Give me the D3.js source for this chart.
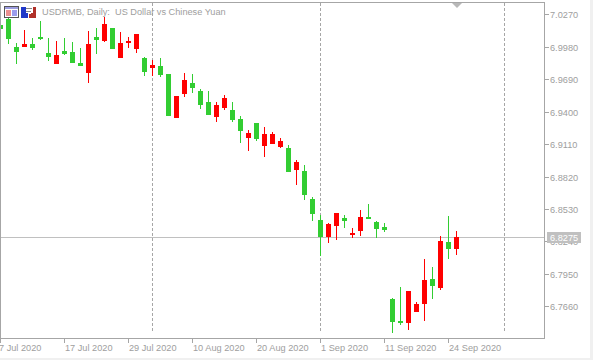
<!DOCTYPE html>
<html><head><meta charset="utf-8">
<script src="https://cdn.jsdelivr.net/npm/d3@7"></script>
<style>html,body{margin:0;padding:0;background:#fff;overflow:hidden}svg{display:block}text{font-family:"Liberation Sans",Arial,sans-serif;font-size:9.2px;fill:#9e9e9e;white-space:pre}</style>
</head><body><div id="c"></div>
<script>
const open_ = [7.0174,7.0228,6.9978,6.9978,7.0005,7.0067,6.9924,6.9826,6.9942,6.9933,6.9835,6.9745,7.0067,7.0031,7.0148,6.9880,7.0014,6.9960,6.9880,6.9790,6.9808,6.9736,6.9343,6.9558,6.9656,6.9584,6.9486,6.9352,6.9432,6.9415,6.9334,6.9164,6.9298,6.9093,6.9111,6.9084,6.9075,6.8878,6.8869,6.8619,6.8431,6.8279,6.8378,6.8449,6.8297,6.8333,6.8458,6.8413,6.8369,6.7725,6.7528,6.7510,6.7609,6.7680,6.7904,6.7823,6.8234,6.8172];
const close_ = [7.0139,7.0049,6.9933,7.0005,6.9969,7.0049,6.9888,6.9906,6.9915,6.9835,6.9808,7.0005,7.0040,7.0183,6.9960,7.0014,7.0031,7.0094,6.9754,6.9817,6.9728,6.9361,6.9540,6.9683,6.9611,6.9459,6.9370,6.9459,6.9522,6.9325,6.9227,6.9209,6.9155,6.9200,6.9200,6.9138,6.8860,6.8950,6.8655,6.8485,6.8279,6.8395,6.8494,6.8422,6.8315,6.8458,6.8440,6.8351,6.8342,6.7519,6.7510,6.7796,6.7680,6.7895,6.7841,6.8243,6.8172,6.8275];
const high_ = [7.0174,7.0264,7.0014,7.0130,7.0058,7.0210,7.0058,7.0031,7.0058,7.0022,6.9969,7.0121,7.0148,7.0246,7.0148,7.0112,7.0067,7.0094,6.9888,6.9862,6.9880,6.9736,6.9540,6.9745,6.9736,6.9602,6.9584,6.9486,6.9549,6.9486,6.9361,6.9236,6.9298,6.9263,6.9218,6.9164,6.9102,6.8968,6.8923,6.8637,6.8476,6.8404,6.8494,6.8476,6.8360,6.8521,6.8574,6.8422,6.8404,6.7734,6.7832,6.7796,6.7698,6.8083,6.8011,6.8288,6.8467,6.8333];
const low_ = [7.0139,7.0005,6.9826,6.9978,6.9951,7.0040,6.9853,6.9826,6.9906,6.9835,6.9808,6.9656,6.9915,7.0022,6.9960,6.9880,6.9969,6.9924,6.9719,6.9719,6.9710,6.9361,6.9343,6.9531,6.9567,6.9424,6.9370,6.9307,6.9415,6.9307,6.9120,6.9048,6.9137,6.8994,6.9111,6.9075,6.8860,6.8744,6.8610,6.8422,6.8109,6.8226,6.8252,6.8360,6.8270,6.8288,6.8440,6.8270,6.8324,6.7421,6.7493,6.7448,6.7609,6.7528,6.7725,6.7805,6.8083,6.8118];
const lastPrice = 6.8275;
const priceTicks = [7.0270,6.9980,6.9690,6.9400,6.9110,6.8820,6.8530,6.8240,6.7950,6.7660];
const dateTickIndex = [0,8,16,24,32,40,48,56];
const dateTickLabels = ["7 Jul 2020","17 Jul 2020","29 Jul 2020","10 Aug 2020","20 Aug 2020","1 Sep 2020","11 Sep 2020","24 Sep 2020"];
const periodSeparators = [19,40,63];
const titleText = "USDRMB, Daily:  US Dollar vs Chinese Yuan";
const UP = "#ff0000", DOWN = "#32cd32", FRAME = "#a6a6a6", GRID = "#a6a6a6", BID = "#c0c0c0";

const W = 593, H = 360, L = 0, R = 544, T = 2, B = 338;
const x = d3.scaleLinear().domain([0,68]).range([L,R]);
const y = d3.scaleLinear().domain([7.0270,6.7660]).range([14.3,306.3]);
const py = v => Math.round(y(v));

const svg = d3.select("#c").append("svg").attr("width",W).attr("height",H).attr("shape-rendering","crispEdges");
svg.append("rect").attr("width",W).attr("height",H).attr("fill","#f0f0f0");
svg.append("rect").attr("width",590).attr("height",358).attr("fill","#fff");

svg.append("defs").append("clipPath").attr("id","plot").append("rect").attr("x",0).attr("y",T).attr("width",R).attr("height",B-T);
const plot = svg.append("g").attr("clip-path","url(#plot)");

plot.selectAll(".sep").data(periodSeparators).join("line").attr("class","sep")
  .attr("x1",d=>x(d)+.5).attr("x2",d=>x(d)+.5).attr("y1",T+1).attr("y2",B-5)
  .attr("stroke",GRID).attr("stroke-dasharray","3,2");

plot.append("line").attr("x1",L).attr("x2",R).attr("y1",py(lastPrice)+.5).attr("y2",py(lastPrice)+.5).attr("stroke",BID);

const idx = d3.range(open_.length);
const col = i => close_[i] >= open_[i] ? UP : DOWN;
plot.selectAll(".wick").data(idx).join("rect").attr("class","wick")
  .attr("x",i=>x(i)).attr("width",1)
  .attr("y",i=>py(high_[i])).attr("height",i=>Math.max(1,py(low_[i])-py(high_[i])))
  .attr("fill",col);
plot.selectAll(".body").data(idx).join("rect").attr("class","body")
  .attr("x",i=>x(i)-2).attr("width",5)
  .attr("y",i=>py(Math.max(open_[i],close_[i])))
  .attr("height",i=>Math.max(1,py(Math.min(open_[i],close_[i]))-py(Math.max(open_[i],close_[i]))))
  .attr("fill",col);

svg.append("path").attr("d",`M${L+.5},${B+.5}V${T+.5}H${R+.5}V${B+.5}H${L+.5}`).attr("fill","none").attr("stroke",FRAME);

svg.append("path").attr("d","M452,3H462L457,8Z").attr("fill","#b8b8b8").attr("shape-rendering","auto");

const ya = svg.append("g");
ya.selectAll("line").data(priceTicks).join("line")
  .attr("x1",R+1).attr("x2",R+5).attr("y1",d=>py(d)+.5).attr("y2",d=>py(d)+.5).attr("stroke",FRAME);
ya.selectAll("text").data(priceTicks).join("text")
  .attr("x",R+6).attr("y",d=>py(d)+4).text(d=>d.toFixed(4));

const xa = svg.append("g");
xa.selectAll("line").data(dateTickIndex).join("line")
  .attr("x1",d=>x(d)+.5).attr("x2",d=>x(d)+.5).attr("y1",B).attr("y2",B+5).attr("stroke",FRAME);
xa.selectAll("text").data(dateTickIndex).join("text")
  .attr("x",(d,i)=>i==0?x(d)-1:x(d)+1).attr("y",B+13).text((d,i)=>dateTickLabels[i]);

svg.append("rect").attr("x",547).attr("y",py(lastPrice)-5).attr("width",34).attr("height",11).attr("fill",BID);
svg.append("text").attr("x",550).attr("y",py(lastPrice)+4).style("fill","#fff").text(lastPrice.toFixed(4));

svg.append("text").attr("x",42).attr("y",15).text(titleText);

const ic = svg.append("g");
const box = (g,a,b,w,h,f)=>g.append("rect").attr("x",a).attr("y",b).attr("width",w).attr("height",h).attr("fill",f);
box(ic,4,6,15,12,"#555"); box(ic,5,7,13,10,"#fff"); box(ic,5,7,13,2,"#9c9ce0");
box(ic,6,10,5,6,"#ec9090"); box(ic,12,10,5,6,"#9c9cec");
box(ic,21,7,5,11,"#2038c8"); box(ic,26,13,2,5,"#2038c8");
box(ic,31,13,5,5,"#b03028"); box(ic,29,14,2,4,"#b03028"); box(ic,33,7,3,6,"#b03028");
box(ic,26,8,6,1,"#888"); box(ic,26,11,5,1,"#888");
</script></body></html>
